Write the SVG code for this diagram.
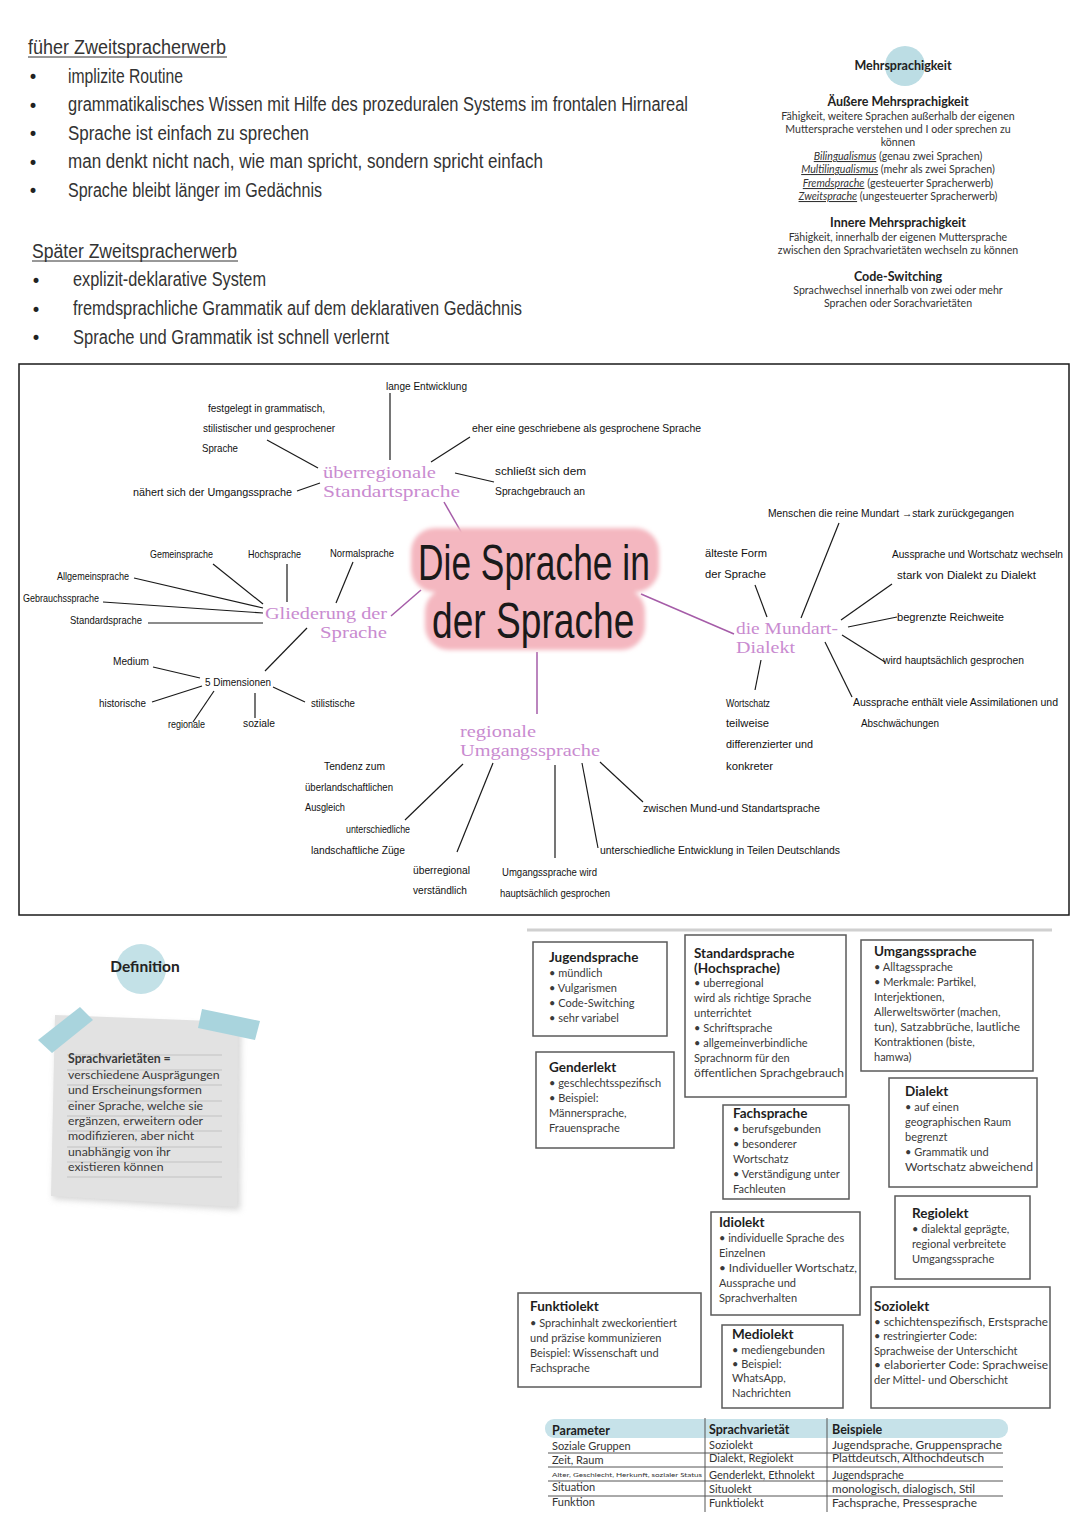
<svg xmlns="http://www.w3.org/2000/svg" width="1080" height="1527" viewBox="0 0 1080 1527">
<defs>
<style>
.tl{font-family:"Liberation Sans",Arial,sans-serif;font-size:20px;fill:#333;}
.bu{font-family:"DejaVu Sans",sans-serif;font-size:17px;fill:#222;}
.ms{font-family:Lato,"Open Sans",sans-serif;font-size:10.6px;fill:#333;text-anchor:middle;}
.msb{font-family:Lato,"Open Sans",sans-serif;font-size:12.5px;font-weight:bold;fill:#222;text-anchor:middle;}
.hw{font-family:"Liberation Sans",Arial,sans-serif;font-size:10.5px;fill:#111;}
.pu{font-family:"Liberation Serif","DejaVu Serif",serif;font-size:17px;fill:#c98bd0;}
.ti{font-family:"Liberation Sans",Arial,sans-serif;font-size:50px;fill:#1a1a1a;}
.ln{stroke:#1a1a1a;stroke-width:1.2;fill:none;}
.pl{stroke:#a55ca8;stroke-width:1.5;fill:none;}
.bx{fill:#fff;stroke:#5a5a5a;stroke-width:1.5;}
.bt{font-family:Lato,"Open Sans",sans-serif;font-size:13.5px;font-weight:bold;fill:#1e1e1e;}
.bl{font-family:Lato,"Open Sans",sans-serif;font-size:11px;fill:#3a3a3a;}
.df{font-family:Lato,"Open Sans",sans-serif;font-size:12.3px;fill:#3a3a3a;}
.th{font-family:Lato,"Open Sans",sans-serif;font-size:12.5px;font-weight:bold;fill:#1e1e1e;}
.tc{font-family:Lato,"Open Sans",sans-serif;font-size:11px;fill:#333;}
.rl{stroke:#555;stroke-width:1;}
</style>
<filter id="soft" x="-10%" y="-10%" width="120%" height="120%"><feGaussianBlur stdDeviation="2"/></filter>
<filter id="shd" x="-10%" y="-10%" width="130%" height="130%"><feGaussianBlur stdDeviation="3"/></filter>
</defs>
<rect width="1080" height="1527" fill="#fff"/>

<!-- Top-left notes -->
<g id="fruehe">
<text class="tl" x="28" y="54" textLength="198" lengthAdjust="spacingAndGlyphs">füher Zweitspracherwerb</text>
<line x1="28" y1="57" x2="227" y2="57" stroke="#333" stroke-width="1"/>
<text class="bu" x="28" y="83">•</text><text class="tl" x="68" y="83" textLength="115" lengthAdjust="spacingAndGlyphs">implizite Routine</text>
<text class="bu" x="28" y="112">•</text><text class="tl" x="68" y="111" textLength="620" lengthAdjust="spacingAndGlyphs">grammatikalisches Wissen mit Hilfe des prozeduralen Systems im frontalen Hirnareal</text>
<text class="bu" x="28" y="140">•</text><text class="tl" x="68" y="140" textLength="241" lengthAdjust="spacingAndGlyphs">Sprache ist einfach zu sprechen</text>
<text class="bu" x="28" y="169">•</text><text class="tl" x="68" y="168" textLength="475" lengthAdjust="spacingAndGlyphs">man denkt nicht nach, wie man spricht, sondern spricht einfach</text>
<text class="bu" x="28" y="197">•</text><text class="tl" x="68" y="197" textLength="254" lengthAdjust="spacingAndGlyphs">Sprache bleibt länger im Gedächnis</text>
</g>
<g id="spaete">
<text class="tl" x="32" y="258" textLength="205" lengthAdjust="spacingAndGlyphs">Später Zweitspracherwerb</text>
<line x1="32" y1="261" x2="238" y2="261" stroke="#333" stroke-width="1"/>
<text class="bu" x="31" y="287">•</text><text class="tl" x="73" y="286" textLength="193" lengthAdjust="spacingAndGlyphs">explizit-deklarative System</text>
<text class="bu" x="31" y="316">•</text><text class="tl" x="73" y="315" textLength="449" lengthAdjust="spacingAndGlyphs">fremdsprachliche Grammatik auf dem deklarativen Gedächnis</text>
<text class="bu" x="31" y="344">•</text><text class="tl" x="73" y="344" textLength="316" lengthAdjust="spacingAndGlyphs">Sprache und Grammatik ist schnell verlernt</text>
</g>

<!-- Mehrsprachigkeit -->
<g id="mehrsprachigkeit">
<circle cx="905" cy="66" r="20" fill="#bcdde4"/>
<text class="msb" x="903" y="70">Mehrsprachigkeit</text>
<text class="msb" x="898" y="106">Äußere Mehrsprachigkeit</text>
<text class="ms" x="898" y="120">Fähigkeit, weitere Sprachen außerhalb der eigenen</text>
<text class="ms" x="898" y="133">Muttersprache verstehen und I oder sprechen zu</text>
<text class="ms" x="898" y="146">können</text>
<text class="ms" x="898" y="160"><tspan font-style="italic" text-decoration="underline">Bilingualismus</tspan> (genau zwei Sprachen)</text>
<text class="ms" x="898" y="173"><tspan font-style="italic" text-decoration="underline">Multilingualismus</tspan> (mehr als zwei Sprachen)</text>
<text class="ms" x="898" y="187"><tspan font-style="italic" text-decoration="underline">Fremdsprache</tspan> (gesteuerter Spracherwerb)</text>
<text class="ms" x="898" y="200"><tspan font-style="italic" text-decoration="underline">Zweitsprache</tspan> (ungesteuerter Spracherwerb)</text>
<text class="msb" x="898" y="227">Innere Mehrsprachigkeit</text>
<text class="ms" x="898" y="241">Fähigkeit, innerhalb der eigenen Muttersprache</text>
<text class="ms" x="898" y="254">zwischen den Sprachvarietäten wechseln zu können</text>
<text class="msb" x="898" y="281">Code-Switching</text>
<text class="ms" x="898" y="294">Sprachwechsel innerhalb von zwei oder mehr</text>
<text class="ms" x="898" y="307">Sprachen oder Sorachvarietäten</text>
</g>

<!-- Mind map frame -->
<rect x="19" y="364" width="1050" height="551" fill="none" stroke="#1a1a1a" stroke-width="1.5"/>

<!-- connectors -->
<g id="connectors">
<line class="pl" x1="444" y1="502" x2="468" y2="544"/>
<line class="pl" x1="391" y1="616" x2="421" y2="590"/>
<line class="pl" x1="641" y1="594" x2="734" y2="634"/>
<line class="pl" x1="537" y1="652" x2="537" y2="714"/>
<line class="ln" x1="390" y1="393" x2="390" y2="460"/>
<line class="ln" x1="267" y1="440" x2="318" y2="468"/>
<line class="ln" x1="297" y1="491" x2="320" y2="483"/>
<line class="ln" x1="431" y1="462" x2="470" y2="437"/>
<line class="ln" x1="455" y1="473" x2="494" y2="482"/>
<line class="ln" x1="213" y1="564" x2="263" y2="604"/>
<line class="ln" x1="287" y1="564" x2="287" y2="602"/>
<line class="ln" x1="353" y1="562" x2="336" y2="603"/>
<line class="ln" x1="134" y1="578" x2="263" y2="608"/>
<line class="ln" x1="103" y1="602" x2="263" y2="613"/>
<line class="ln" x1="148" y1="623" x2="263" y2="623"/>
<line class="ln" x1="307" y1="628" x2="265" y2="671"/>
<line class="ln" x1="153" y1="667" x2="200" y2="678"/>
<line class="ln" x1="152" y1="702" x2="202" y2="686"/>
<line class="ln" x1="193" y1="722" x2="214" y2="691"/>
<line class="ln" x1="255" y1="693" x2="255" y2="718"/>
<line class="ln" x1="273" y1="687" x2="305" y2="702"/>
<line class="ln" x1="839" y1="523" x2="801" y2="618"/>
<line class="ln" x1="755" y1="585" x2="767" y2="617"/>
<line class="ln" x1="892" y1="584" x2="841" y2="620"/>
<line class="ln" x1="848" y1="627" x2="897" y2="617"/>
<line class="ln" x1="842" y1="635" x2="885" y2="662"/>
<line class="ln" x1="825" y1="642" x2="852" y2="697"/>
<line class="ln" x1="761" y1="660" x2="755" y2="690"/>
<line class="ln" x1="463" y1="764" x2="405" y2="820"/>
<line class="ln" x1="493" y1="763" x2="457" y2="852"/>
<line class="ln" x1="555" y1="765" x2="555" y2="858"/>
<line class="ln" x1="582" y1="763" x2="598" y2="848"/>
<line class="ln" x1="600" y1="762" x2="643" y2="802"/>
</g>

<!-- central node -->
<g id="title">
<g filter="url(#soft)" fill="#f4b7c0">
<rect x="411" y="528" width="248" height="64" rx="24"/>
<rect x="425" y="588" width="220" height="62" rx="24"/>
</g>
<text class="ti" transform="translate(418,580) scale(0.72,1)" x="0" y="0" textLength="322" lengthAdjust="spacingAndGlyphs">Die Sprache in</text>
<text class="ti" transform="translate(432,638) scale(0.72,1)" x="0" y="0" textLength="281" lengthAdjust="spacingAndGlyphs">der Sprache</text>
</g>

<g id="standartsprache">
<text class="pu" x="323" y="478" textLength="113" lengthAdjust="spacingAndGlyphs">überregionale</text>
<text class="pu" x="323" y="497" textLength="137" lengthAdjust="spacingAndGlyphs">Standartsprache</text>
<text class="hw" x="386" y="390" textLength="81" lengthAdjust="spacingAndGlyphs">lange Entwicklung</text>
<text class="hw" x="208" y="412" textLength="117" lengthAdjust="spacingAndGlyphs">festgelegt in grammatisch,</text>
<text class="hw" x="203" y="432" textLength="132" lengthAdjust="spacingAndGlyphs">stilistischer und gesprochener</text>
<text class="hw" x="202" y="452" textLength="36" lengthAdjust="spacingAndGlyphs">Sprache</text>
<text class="hw" x="133" y="496" textLength="159" lengthAdjust="spacingAndGlyphs">nähert sich der Umgangssprache</text>
<text class="hw" x="472" y="432" textLength="229" lengthAdjust="spacingAndGlyphs">eher eine geschriebene als gesprochene Sprache</text>
<text class="hw" x="495" y="475" textLength="91" lengthAdjust="spacingAndGlyphs">schließt sich dem</text>
<text class="hw" x="495" y="495" textLength="90" lengthAdjust="spacingAndGlyphs">Sprachgebrauch an</text>
</g>

<g id="gliederung">
<text class="pu" x="265" y="619" textLength="122" lengthAdjust="spacingAndGlyphs">Gliederung der</text>
<text class="pu" x="320" y="638" textLength="67" lengthAdjust="spacingAndGlyphs">Sprache</text>
<text class="hw" x="150" y="558" textLength="63" lengthAdjust="spacingAndGlyphs">Gemeinsprache</text>
<text class="hw" x="248" y="558" textLength="53" lengthAdjust="spacingAndGlyphs">Hochsprache</text>
<text class="hw" x="330" y="557" textLength="64" lengthAdjust="spacingAndGlyphs">Normalsprache</text>
<text class="hw" x="57" y="580" textLength="72" lengthAdjust="spacingAndGlyphs">Allgemeinsprache</text>
<text class="hw" x="23" y="602" textLength="76" lengthAdjust="spacingAndGlyphs">Gebrauchssprache</text>
<text class="hw" x="70" y="624" textLength="72" lengthAdjust="spacingAndGlyphs">Standardsprache</text>
<text class="hw" x="205" y="686" textLength="66" lengthAdjust="spacingAndGlyphs">5 Dimensionen</text>
<text class="hw" x="113" y="665" textLength="36" lengthAdjust="spacingAndGlyphs">Medium</text>
<text class="hw" x="99" y="707" textLength="47" lengthAdjust="spacingAndGlyphs">historische</text>
<text class="hw" x="168" y="728" textLength="37" lengthAdjust="spacingAndGlyphs">regionale</text>
<text class="hw" x="243" y="727" textLength="32" lengthAdjust="spacingAndGlyphs">soziale</text>
<text class="hw" x="311" y="707" textLength="44" lengthAdjust="spacingAndGlyphs">stilistische</text>
</g>

<g id="mundart">
<text class="pu" x="736" y="634" textLength="102" lengthAdjust="spacingAndGlyphs">die Mundart-</text>
<text class="pu" x="736" y="653" textLength="59" lengthAdjust="spacingAndGlyphs">Dialekt</text>
<text class="hw" x="768" y="517" textLength="246" lengthAdjust="spacingAndGlyphs">Menschen die reine Mundart →stark zurückgegangen</text>
<text class="hw" x="705" y="557" textLength="62" lengthAdjust="spacingAndGlyphs">älteste Form</text>
<text class="hw" x="705" y="578" textLength="61" lengthAdjust="spacingAndGlyphs">der Sprache</text>
<text class="hw" x="892" y="558" textLength="171" lengthAdjust="spacingAndGlyphs">Aussprache und Wortschatz wechseln</text>
<text class="hw" x="897" y="579" textLength="139" lengthAdjust="spacingAndGlyphs">stark von Dialekt zu Dialekt</text>
<text class="hw" x="897" y="621" textLength="107" lengthAdjust="spacingAndGlyphs">begrenzte Reichweite</text>
<text class="hw" x="883" y="664" textLength="141" lengthAdjust="spacingAndGlyphs">wird hauptsächlich gesprochen</text>
<text class="hw" x="853" y="706" textLength="205" lengthAdjust="spacingAndGlyphs">Aussprache enthält viele Assimilationen und</text>
<text class="hw" x="861" y="727" textLength="78" lengthAdjust="spacingAndGlyphs">Abschwächungen</text>
<text class="hw" x="726" y="707" textLength="44" lengthAdjust="spacingAndGlyphs">Wortschatz</text>
<text class="hw" x="726" y="727" textLength="43" lengthAdjust="spacingAndGlyphs">teilweise</text>
<text class="hw" x="726" y="748" textLength="87" lengthAdjust="spacingAndGlyphs">differenzierter und</text>
<text class="hw" x="726" y="770" textLength="47" lengthAdjust="spacingAndGlyphs">konkreter</text>
</g>

<g id="umgangssprache">
<text class="pu" x="460" y="737" textLength="76" lengthAdjust="spacingAndGlyphs">regionale</text>
<text class="pu" x="460" y="756" textLength="140" lengthAdjust="spacingAndGlyphs">Umgangssprache</text>
<text class="hw" x="324" y="770" textLength="61" lengthAdjust="spacingAndGlyphs">Tendenz zum</text>
<text class="hw" x="305" y="791" textLength="88" lengthAdjust="spacingAndGlyphs">überlandschaftlichen</text>
<text class="hw" x="305" y="811" textLength="40" lengthAdjust="spacingAndGlyphs">Ausgleich</text>
<text class="hw" x="346" y="833" textLength="64" lengthAdjust="spacingAndGlyphs">unterschiedliche</text>
<text class="hw" x="311" y="854" textLength="94" lengthAdjust="spacingAndGlyphs">landschaftliche Züge</text>
<text class="hw" x="413" y="874" textLength="57" lengthAdjust="spacingAndGlyphs">überregional</text>
<text class="hw" x="413" y="894" textLength="54" lengthAdjust="spacingAndGlyphs">verständlich</text>
<text class="hw" x="502" y="876" textLength="95" lengthAdjust="spacingAndGlyphs">Umgangssprache wird</text>
<text class="hw" x="500" y="897" textLength="110" lengthAdjust="spacingAndGlyphs">hauptsächlich gesprochen</text>
<text class="hw" x="600" y="854" textLength="240" lengthAdjust="spacingAndGlyphs">unterschiedliche Entwicklung in Teilen Deutschlands</text>
<text class="hw" x="643" y="812" textLength="177" lengthAdjust="spacingAndGlyphs">zwischen Mund-und Standartsprache</text>
</g>

<!-- Definition note -->
<g id="definition">
<circle cx="141" cy="969" r="25" fill="#c3e1e7"/>
<text x="145" y="972" text-anchor="middle" font-family="Lato,'Open Sans',sans-serif" font-size="15.5" font-weight="bold" fill="#222">Definition</text>
<polygon points="57,1019 241,1027 240,1210 53,1199" fill="#bbb" filter="url(#shd)" opacity="0.6"/>
<polygon points="55,1015 238,1022 237,1207 51,1196" fill="#e2e2e2"/>
<polygon points="38,1040 80,1007 93,1020 52,1053" fill="#a9d4dd"/>
<polygon points="202,1009 260,1021 255,1040 198,1028" fill="#a9d4dd"/>
<g stroke="#c2c2c2" stroke-width="1">
<line x1="67" y1="1055" x2="222" y2="1055"/>
<line x1="67" y1="1070" x2="222" y2="1070"/>
<line x1="67" y1="1085" x2="222" y2="1085"/>
<line x1="67" y1="1101" x2="222" y2="1101"/>
<line x1="67" y1="1116" x2="222" y2="1116"/>
<line x1="67" y1="1131" x2="222" y2="1131"/>
<line x1="67" y1="1147" x2="222" y2="1147"/>
<line x1="67" y1="1162" x2="222" y2="1162"/>
<line x1="67" y1="1177" x2="222" y2="1177"/>
</g>
<text class="df" x="68" y="1063" font-weight="bold" fill="#222">Sprachvarietäten =</text>
<text class="df" x="68" y="1079">verschiedene Ausprägungen</text>
<text class="df" x="68" y="1094">und Erscheinungsformen</text>
<text class="df" x="68" y="1110">einer Sprache, welche sie</text>
<text class="df" x="68" y="1125">ergänzen, erweitern oder</text>
<text class="df" x="68" y="1140">modifizieren, aber nicht</text>
<text class="df" x="68" y="1156">unabhängig von ihr</text>
<text class="df" x="68" y="1171">existieren können</text>
</g>

<line x1="527" y1="930" x2="1052" y2="930" stroke="#d0d0d0" stroke-width="3"/>

<g id="jugendsprache">
<rect class="bx" x="533" y="942" width="134" height="94"/>
<text class="bt" x="549" y="962">Jugendsprache</text>
<text class="bl" x="549" y="977">• mündlich</text>
<text class="bl" x="549" y="992">• Vulgarismen</text>
<text class="bl" x="549" y="1007">• Code-Switching</text>
<text class="bl" x="549" y="1022">• sehr variabel</text>
</g>
<g id="genderlekt">
<rect class="bx" x="536" y="1052" width="138" height="96"/>
<text class="bt" x="549" y="1072">Genderlekt</text>
<text class="bl" x="549" y="1087">• geschlechtsspezifisch</text>
<text class="bl" x="549" y="1102">• Beispiel:</text>
<text class="bl" x="549" y="1117">Männersprache,</text>
<text class="bl" x="549" y="1132">Frauensprache</text>
</g>
<g id="standardsprache">
<rect class="bx" x="685" y="935" width="161" height="162"/>
<text class="bt" x="694" y="958">Standardsprache</text>
<text class="bt" x="694" y="973">(Hochsprache)</text>
<text class="bl" x="694" y="987">• uberregional</text>
<text class="bl" x="694" y="1002">wird als richtige Sprache</text>
<text class="bl" x="694" y="1017">unterrichtet</text>
<text class="bl" x="694" y="1032">• Schriftsprache</text>
<text class="bl" x="694" y="1047">• allgemeinverbindliche</text>
<text class="bl" x="694" y="1062">Sprachnorm für den</text>
<text class="bl" x="694" y="1077" textLength="150" lengthAdjust="spacingAndGlyphs">öffentlichen Sprachgebrauch</text>
</g>
<g id="fachsprache">
<rect class="bx" x="723" y="1105" width="126" height="94"/>
<text class="bt" x="733" y="1118">Fachsprache</text>
<text class="bl" x="733" y="1133">• berufsgebunden</text>
<text class="bl" x="733" y="1148">• besonderer</text>
<text class="bl" x="733" y="1163">Wortschatz</text>
<text class="bl" x="733" y="1178">• Verständigung unter</text>
<text class="bl" x="733" y="1193">Fachleuten</text>
</g>
<g id="umgangssprache-box">
<rect class="bx" x="861" y="940" width="172" height="131"/>
<text class="bt" x="874" y="956">Umgangssprache</text>
<text class="bl" x="874" y="971">• Alltagssprache</text>
<text class="bl" x="874" y="986">• Merkmale: Partikel,</text>
<text class="bl" x="874" y="1001">Interjektionen,</text>
<text class="bl" x="874" y="1016">Allerweltswörter (machen,</text>
<text class="bl" x="874" y="1031" textLength="146" lengthAdjust="spacingAndGlyphs">tun), Satzabbrüche, lautliche</text>
<text class="bl" x="874" y="1046">Kontraktionen (biste,</text>
<text class="bl" x="874" y="1061">hamwa)</text>
</g>
<g id="dialekt">
<rect class="bx" x="889" y="1078" width="148" height="109"/>
<text class="bt" x="905" y="1096">Dialekt</text>
<text class="bl" x="905" y="1111">• auf einen</text>
<text class="bl" x="905" y="1126">geographischen Raum</text>
<text class="bl" x="905" y="1141">begrenzt</text>
<text class="bl" x="905" y="1156">• Grammatik und</text>
<text class="bl" x="905" y="1171" textLength="128" lengthAdjust="spacingAndGlyphs">Wortschatz abweichend</text>
</g>
<g id="regiolekt">
<rect class="bx" x="895" y="1196" width="135" height="83"/>
<text class="bt" x="912" y="1218">Regiolekt</text>
<text class="bl" x="912" y="1233">• dialektal geprägte,</text>
<text class="bl" x="912" y="1248">regional verbreitete</text>
<text class="bl" x="912" y="1263">Umgangssprache</text>
</g>
<g id="idiolekt">
<rect class="bx" x="711" y="1212" width="149" height="103"/>
<text class="bt" x="719" y="1227">Idiolekt</text>
<text class="bl" x="719" y="1242">• individuelle Sprache des</text>
<text class="bl" x="719" y="1257">Einzelnen</text>
<text class="bl" x="719" y="1272" textLength="138" lengthAdjust="spacingAndGlyphs">• Individueller Wortschatz,</text>
<text class="bl" x="719" y="1287">Aussprache und</text>
<text class="bl" x="719" y="1302">Sprachverhalten</text>
</g>
<g id="funktiolekt">
<rect class="bx" x="518" y="1293" width="183" height="94"/>
<text class="bt" x="530" y="1311">Funktiolekt</text>
<text class="bl" x="530" y="1327">• Sprachinhalt zweckorientiert</text>
<text class="bl" x="530" y="1342">und präzise kommunizieren</text>
<text class="bl" x="530" y="1357">Beispiel: Wissenschaft und</text>
<text class="bl" x="530" y="1372">Fachsprache</text>
</g>
<g id="mediolekt">
<rect class="bx" x="722" y="1325" width="121" height="83"/>
<text class="bt" x="732" y="1339">Mediolekt</text>
<text class="bl" x="732" y="1354">• mediengebunden</text>
<text class="bl" x="732" y="1368">• Beispiel:</text>
<text class="bl" x="732" y="1382">WhatsApp,</text>
<text class="bl" x="732" y="1397">Nachrichten</text>
</g>
<g id="soziolekt">
<rect class="bx" x="871" y="1287" width="179" height="121"/>
<text class="bt" x="874" y="1311">Soziolekt</text>
<text class="bl" x="874" y="1326" textLength="174" lengthAdjust="spacingAndGlyphs">• schichtenspezifisch, Erstsprache</text>
<text class="bl" x="874" y="1340">• restringierter Code:</text>
<text class="bl" x="874" y="1355">Sprachweise der Unterschicht</text>
<text class="bl" x="874" y="1369" textLength="174" lengthAdjust="spacingAndGlyphs">• elaborierter Code: Sprachweise</text>
<text class="bl" x="874" y="1384">der Mittel- und Oberschicht</text>
</g>

<!-- Table -->
<g id="tabelle">
<rect x="545" y="1419" width="463" height="19" rx="9" fill="#c6e2e9"/>
<line class="rl" x1="705" y1="1418" x2="705" y2="1512"/>
<line class="rl" x1="827" y1="1418" x2="827" y2="1512"/>
<line class="rl" x1="548" y1="1453" x2="1003" y2="1453"/>
<line class="rl" x1="548" y1="1467" x2="1003" y2="1467"/>
<line class="rl" x1="548" y1="1481" x2="1003" y2="1481"/>
<line class="rl" x1="548" y1="1496" x2="1003" y2="1496"/>
<text class="th" x="552" y="1435">Parameter</text>
<text class="th" x="709" y="1434">Sprachvarietät</text>
<text class="th" x="832" y="1434">Beispiele</text>
<text class="tc" x="552" y="1450">Soziale Gruppen</text>
<text class="tc" x="709" y="1449">Soziolekt</text>
<text class="tc" x="832" y="1449" textLength="170" lengthAdjust="spacingAndGlyphs">Jugendsprache, Gruppensprache</text>
<text class="tc" x="552" y="1464">Zeit, Raum</text>
<text class="tc" x="709" y="1462">Dialekt, Regiolekt</text>
<text class="tc" x="832" y="1462" textLength="152" lengthAdjust="spacingAndGlyphs">Plattdeutsch, Althochdeutsch</text>
<text x="552" y="1477" font-family="Lato,'Open Sans',sans-serif" font-size="5.5" fill="#333" textLength="150" lengthAdjust="spacingAndGlyphs">Alter, Geschlecht, Herkunft, sozialer Status</text>
<text class="tc" x="709" y="1479">Genderlekt, Ethnolekt</text>
<text class="tc" x="832" y="1479">Jugendsprache</text>
<text class="tc" x="552" y="1491">Situation</text>
<text class="tc" x="709" y="1493">Situolekt</text>
<text class="tc" x="832" y="1493" textLength="143" lengthAdjust="spacingAndGlyphs">monologisch, dialogisch, Stil</text>
<text class="tc" x="552" y="1506">Funktion</text>
<text class="tc" x="709" y="1507">Funktiolekt</text>
<text class="tc" x="832" y="1507" textLength="145" lengthAdjust="spacingAndGlyphs">Fachsprache, Pressesprache</text>
</g>
</svg>
